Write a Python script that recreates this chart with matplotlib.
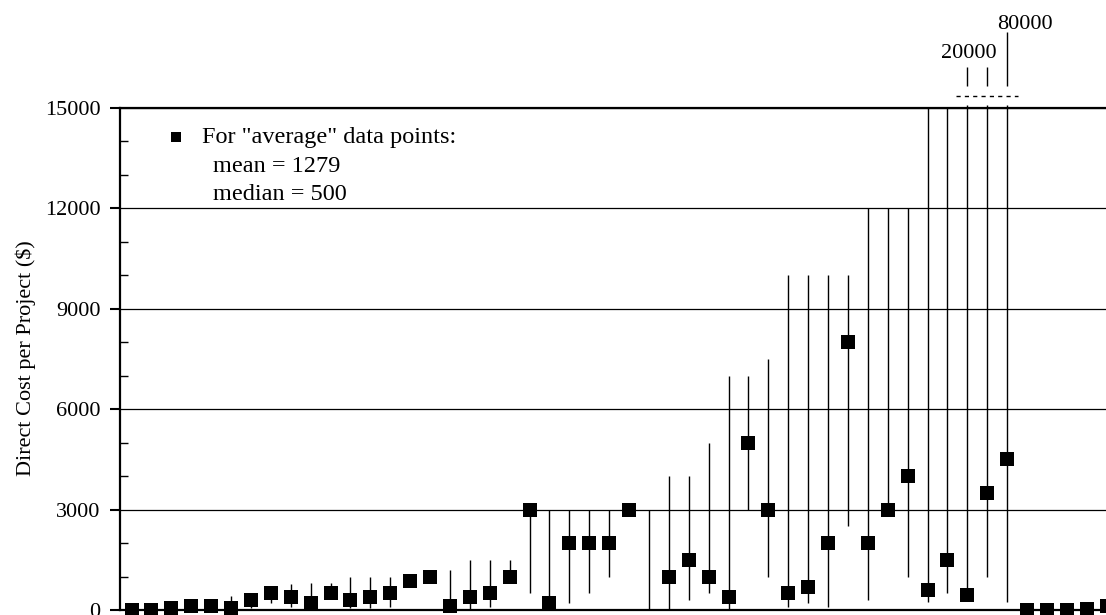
import numpy as np
import matplotlib
matplotlib.use("Agg")
import matplotlib.pyplot as plt
from matplotlib.ticker import MultipleLocator

nan = np.nan

# Direct cost per project ($): reported "average" value and reported range
avg_cost = [10, 10, 50, 125, 125, 70, 300, 500, 400, 220,
            500, 300, 400, 500, 880, 1000, 120, 400, 500, 1000,
            3000, 200, 2000, 2000, 2000, 3000, nan, 1000, 1500, 1000,
            400, 5000, 3000, 500, 700, 2000, 8000, 2000, 3000, 4000,
            600, 1500, 450, 3500, 4500, 10, 10, 10, 40, 120]
low_cost = [nan, nan, nan, nan, nan, 70, 50, 220, 100, 220,
            500, 70, 70, 100, nan, nan, 0, 0, 100, 1000,
            500, 0, 200, 500, 1000, nan, 0, 0, 300, 500,
            0, 3000, 1000, 100, 200, 100, 2500, 300, 3000, 1000,
            250, 500, 450, 1000, 250, nan, nan, nan, nan, nan]
high_cost = [nan, nan, nan, nan, nan, 420, 300, 500, 780, 820,
             800, 1000, 1000, 1000, nan, nan, 1200, 1500, 1500, 1500,
             3000, 3000, 3000, 3000, 3000, nan, 3000, 4000, 4000, 5000,
             7000, 7000, 7500, 10000, 10000, 10000, 10000, 12000, 12000, 12000,
             15000, 15000, 20000, 20000, 80000, nan, nan, nan, nan, nan]

y_ticks = [0, 3000, 6000, 9000, 12000, 15000]
mean_text = 'mean = 1279'
median_text = 'median = 500'

projects = np.arange(len(avg_cost))
AXIS_TOP = 15000
BREAK_Y = 15090          # ranges beyond the axis stop just above it
DASH_Y = 15360           # broken-axis dashed marker
STUB_LO, STUB_HI, STUB_TALL = 15660, 16230, 17270

plt.rcParams["font.family"] = ["Liberation Serif", "DejaVu Serif"]

fig = plt.figure(figsize=(11.06, 6.15), dpi=100)
ax = fig.add_axes([120 / 1106, 5 / 615, 986 / 1106, 502 / 615])
ax.set_xlim(-0.58, 48.97)
ax.set_ylim(0, AXIS_TOP)

# range bars
for x, lo, hi in zip(projects, low_cost, high_cost):
    if np.isnan(lo):
        continue
    top = BREAK_Y if hi > AXIS_TOP else hi
    ax.vlines(x, lo, top, color="black", lw=1.0, clip_on=False, zorder=2)

# average values
ax.plot(projects, avg_cost, "s", color="black", ms=9.6, mew=0,
        linestyle="none", clip_on=False, zorder=3)

# off-scale ranges: dashed break line, stubs and their true maxima
off = [i for i, h in enumerate(high_cost) if not np.isnan(h) and h > AXIS_TOP]
ax.plot([off[0] - 0.55, off[-1] + 0.55], [DASH_Y, DASH_Y], color="black",
        lw=1.0, dashes=(3, 3), clip_on=False)
big = max(high_cost[i] for i in off)
for i in off:
    hi_end = STUB_TALL if high_cost[i] == big else STUB_HI
    ax.vlines(i, STUB_LO, hi_end, color="black", lw=1.0, clip_on=False)
mid = [i for i in off if high_cost[i] != big]
ax.text(mid[-1] + 0.45, 16490, f"{int(high_cost[mid[0]])}", ha="right",
        va="baseline", fontsize=16)
top_i = [i for i in off if high_cost[i] == big][0]
ax.text(top_i - 0.5, 17360, f"{int(big)}", ha="left", va="baseline",
        fontsize=16)

# axes styling
ax.set_yticks(y_ticks)
ax.set_yticklabels([str(t) for t in y_ticks])
ax.yaxis.set_minor_locator(MultipleLocator(1000))
ax.set_xticks([])
ax.tick_params(axis="y", which="major", direction="out", length=7,
               width=1.5, labelsize=16, pad=7)
ax.tick_params(axis="y", which="minor", direction="in", length=6, width=1)
ax.yaxis.grid(True, which="major", color="black", lw=0.9)
ax.set_axisbelow(True)
ax.spines["right"].set_visible(False)
for s in ("left", "bottom", "top"):
    ax.spines[s].set_linewidth(1.6)

fig.text(26 / 1106, (615 - 358) / 615, "Direct Cost per Project ($)",
         rotation=90, ha="center", va="center", fontsize=16)

# note box
ax.plot([0.0568], [0.943], "s", color="black", ms=7.5, mew=0,
        transform=ax.transAxes, clip_on=False)
ax.text(0.0832, 0.930, 'For "average" data points:', transform=ax.transAxes,
        fontsize=17.5, va="baseline")
ax.text(0.0943, 0.8725, mean_text, transform=ax.transAxes,
        fontsize=17.5, va="baseline")
ax.text(0.0943, 0.8167, median_text, transform=ax.transAxes,
        fontsize=17.5, va="baseline")

fig.savefig("out.png", dpi=100)
